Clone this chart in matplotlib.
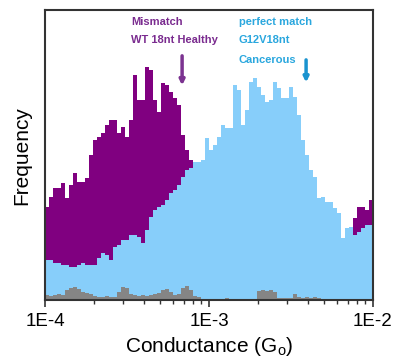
import matplotlib
matplotlib.use("Agg")
import matplotlib.pyplot as plt
import numpy as np

plt.rcParams['font.family'] = ['Liberation Sans', 'DejaVu Sans']

# histogram bins: 82 log-spaced bins between 1E-4 and 1E-2 G0
edges = np.logspace(-4, -2, 83)

# counts (arbitrary units)
mismatch = [93, 103, 112, 112, 117, 102, 115, 127, 118, 118,
            122, 145, 160, 163, 167, 175, 180, 180, 167, 173,
            163, 180, 225, 200, 200, 233, 230, 200, 188, 217,
            215, 208, 202, 195, 165, 150, 140, 90, 120, 110,
            100, 95, 92, 90, 88, 85, 82, 80, 78, 75,
            72, 70, 68, 65, 62, 60, 58, 55, 52, 50,
            48, 46, 45, 45, 46, 47, 48, 50, 50, 52,
            50, 52, 55, 55, 58, 60, 65, 82, 93, 93,
            90, 100]
perfect = [40, 40, 37, 37, 35, 35, 33, 33, 35, 37,
           35, 35, 35, 42, 47, 45, 40, 53, 55, 60,
           60, 65, 65, 63, 57, 70, 83, 90, 93, 95,
           100, 107, 110, 115, 123, 130, 132, 138, 138, 140,
           162, 150, 155, 163, 175, 172, 172, 215, 210, 175,
           190, 218, 222, 213, 205, 198, 200, 218, 212, 202,
           202, 213, 203, 185, 160, 145, 130, 123, 102, 103,
           98, 98, 92, 87, 62, 72, 73, 65, 68, 72,
           75, 75]
blank = [5, 4, 5, 6, 5, 10, 12, 13, 11, 8,
         7, 6, 4, 3, 3, 4, 3, 3, 8, 13,
         12, 6, 5, 4, 5, 4, 5, 6, 7, 10,
         11, 8, 5, 6, 12, 14, 10, 4, 3, 1,
         1, 1, 1, 0, 1, 2, 1, 1, 0, 1,
         1, 1, 1, 9, 10, 9, 10, 8, 2, 2,
         2, 2, 6, 3, 2, 3, 2, 3, 2, 1,
         0, 0, 0, 0, 0, 0, 0, 0, 0, 0,
         0, 0]

fig = plt.figure(figsize=(4.0, 3.62), dpi=100)
ax = fig.add_axes([0.1125, 0.171, 0.82, 0.801])

ax.stairs(mismatch, edges, fill=True, color='#800080')
ax.stairs(perfect, edges, fill=True, color='#87cefa')
ax.stairs(blank, edges, fill=True, color='#858585')

ax.set_xscale('log')
ax.set_xlim(1e-4, 1e-2)
ax.set_ylim(0, 290)
ax.set_yticks([])
ax.set_xticks([1e-4, 1e-3, 1e-2])
ax.set_xticklabels(['1E-4', '1E-3', '1E-2'])
ax.tick_params(axis='x', which='major', length=5, width=1.2, labelsize=13.5, pad=4, color='#333333')
ax.tick_params(axis='x', which='minor', length=3, width=1.0, color='#333333')
for sp in ax.spines.values():
    sp.set_color('#333333')
    sp.set_linewidth(1.5)

ax.set_xlabel('Conductance (G$_\\mathregular{o}$)', fontsize=15, labelpad=4)
ax.set_ylabel('Frequency', fontsize=15, labelpad=10)

purple_txt = '#7a2b8f'
blue_txt = '#2aa7de'
ax.text(0.262, 0.959, 'Mismatch', transform=ax.transAxes, color=purple_txt,
        fontsize=8, fontweight='bold', va='center', ha='left')
ax.text(0.262, 0.897, 'WT 18nt Healthy', transform=ax.transAxes, color=purple_txt,
        fontsize=8, fontweight='bold', va='center', ha='left')
ax.text(0.591, 0.959, 'perfect match', transform=ax.transAxes, color=blue_txt,
        fontsize=8, fontweight='bold', va='center', ha='left')
ax.text(0.591, 0.897, 'G12V18nt', transform=ax.transAxes, color=blue_txt,
        fontsize=8, fontweight='bold', va='center', ha='left')
ax.text(0.591, 0.828, 'Cancerous', transform=ax.transAxes, color=blue_txt,
        fontsize=8, fontweight='bold', va='center', ha='left')

ax.annotate('', xy=(0.418, 0.731), xytext=(0.418, 0.852), xycoords='axes fraction',
            arrowprops=dict(arrowstyle='-|>', lw=2.5, color='#7b3390', mutation_scale=7))
ax.annotate('', xy=(0.796, 0.741), xytext=(0.796, 0.838), xycoords='axes fraction',
            arrowprops=dict(arrowstyle='-|>', lw=2.5, color='#1a93cf', mutation_scale=7))

fig.savefig('out.png', dpi=100)
